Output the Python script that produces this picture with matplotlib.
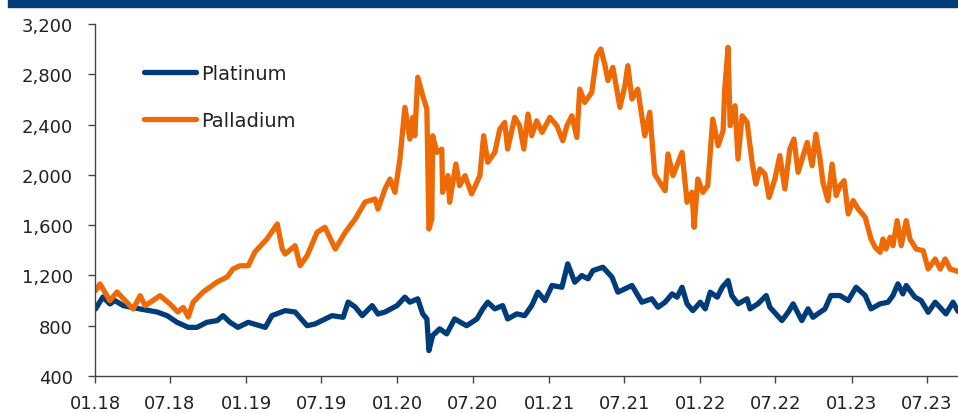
import matplotlib
matplotlib.use("Agg")
import matplotlib.pyplot as plt
import matplotlib.dates as mdates
from matplotlib.patches import Rectangle
from matplotlib.ticker import FuncFormatter, MultipleLocator
import pandas as pd

# values (USD/oz)
platinum_dates = [
    "2018-01-02", "2018-01-20", "2018-02-06", "2018-02-18", "2018-03-10", "2018-04-20",
    "2018-05-31", "2018-06-24", "2018-07-18", "2018-08-14", "2018-09-04", "2018-09-28",
    "2018-10-23", "2018-11-06", "2018-11-23", "2018-12-12",
    "2019-01-06", "2019-02-16", "2019-03-04", "2019-04-05", "2019-04-29", "2019-05-28",
    "2019-06-16", "2019-07-27", "2019-08-23", "2019-09-04", "2019-09-21", "2019-10-08",
    "2019-11-01", "2019-11-15", "2019-12-02", "2019-12-31",
    "2020-01-19", "2020-01-31", "2020-02-19", "2020-03-02", "2020-03-12", "2020-03-17",
    "2020-03-26", "2020-04-12", "2020-04-29", "2020-05-18", "2020-06-16", "2020-07-11",
    "2020-07-25", "2020-08-06", "2020-08-23", "2020-09-11", "2020-09-23", "2020-10-15",
    "2020-11-03", "2020-11-20", "2020-12-05", "2020-12-22",
    "2021-01-08", "2021-02-01", "2021-02-15", "2021-03-04", "2021-03-21", "2021-04-05",
    "2021-04-17", "2021-05-11", "2021-06-02", "2021-06-16", "2021-07-03", "2021-07-20",
    "2021-08-13", "2021-09-06", "2021-09-21", "2021-10-08", "2021-10-25", "2021-11-06",
    "2021-11-18", "2021-11-30", "2021-12-14",
    "2022-01-01", "2022-01-13", "2022-01-25", "2022-02-11", "2022-02-23", "2022-03-09",
    "2022-03-18", "2022-04-02", "2022-04-24", "2022-05-01", "2022-05-20", "2022-06-09",
    "2022-06-18", "2022-07-17", "2022-08-01", "2022-08-13", "2022-09-03", "2022-09-18",
    "2022-09-30", "2022-10-17", "2022-10-29", "2022-11-12", "2022-12-04", "2022-12-24",
    "2023-01-12", "2023-02-03", "2023-02-17", "2023-03-11", "2023-03-30", "2023-04-11",
    "2023-04-23", "2023-05-05", "2023-05-13", "2023-06-03", "2023-06-18", "2023-07-05",
    "2023-07-22", "2023-08-17", "2023-09-03", "2023-09-15",
]
platinum = [
    933, 1028, 973, 1000, 960, 933,
    909, 880, 827, 787, 787, 827,
    841, 880, 827, 787,
    827, 787, 880, 920, 909, 800,
    814, 880, 867, 988, 949, 880,
    960, 893, 909, 960,
    1027, 987, 1014, 894, 854, 602,
    722, 775, 735, 854, 800, 854,
    934, 987, 934, 960, 854, 894,
    880, 960, 1067, 1000,
    1120, 1106, 1292, 1146, 1199, 1173,
    1239, 1265, 1186, 1067, 1093, 1120,
    987, 1014, 947, 987, 1053, 1027,
    1106, 974, 920,
    987, 934, 1067, 1027, 1106, 1159,
    1040, 974, 1014, 934, 974, 1040,
    947, 841, 907, 974, 841, 934,
    867, 907, 934, 1040, 1040, 1000,
    1106, 1040, 934, 974, 987, 1040,
    1133, 1053, 1120, 1027, 1000, 907,
    987, 894, 987, 915,
]

palladium_dates = [
    "2018-01-02", "2018-01-13", "2018-02-06", "2018-02-23", "2018-04-03", "2018-04-20",
    "2018-05-02", "2018-06-07", "2018-07-01", "2018-07-20", "2018-08-02", "2018-08-14",
    "2018-08-26", "2018-09-19", "2018-10-23", "2018-11-16", "2018-11-30", "2018-12-17",
    "2019-01-06", "2019-01-22", "2019-02-20", "2019-03-17", "2019-03-29", "2019-04-05",
    "2019-04-29", "2019-05-11", "2019-05-28", "2019-06-21", "2019-07-10", "2019-08-04",
    "2019-08-28", "2019-09-21", "2019-10-15", "2019-11-08", "2019-11-15", "2019-12-02",
    "2019-12-14", "2019-12-26",
    "2020-01-07", "2020-01-19", "2020-01-31", "2020-02-07", "2020-02-12", "2020-02-19",
    "2020-03-02", "2020-03-12", "2020-03-17", "2020-03-24", "2020-03-26", "2020-04-05",
    "2020-04-17", "2020-04-19", "2020-05-02", "2020-05-06", "2020-05-21", "2020-05-30",
    "2020-06-12", "2020-06-28", "2020-07-18", "2020-07-27", "2020-08-06", "2020-08-23",
    "2020-09-04", "2020-09-16", "2020-09-23", "2020-10-10", "2020-10-22", "2020-11-01",
    "2020-11-11", "2020-11-20", "2020-12-02", "2020-12-15",
    "2021-01-03", "2021-01-20", "2021-02-03", "2021-02-13", "2021-02-25", "2021-03-09",
    "2021-03-16", "2021-03-28", "2021-04-14", "2021-04-26", "2021-05-06", "2021-05-16",
    "2021-05-23", "2021-06-04", "2021-06-21", "2021-07-03", "2021-07-10", "2021-07-20",
    "2021-08-03", "2021-08-20", "2021-09-01", "2021-09-13", "2021-09-30", "2021-10-08",
    "2021-10-15", "2021-10-27", "2021-11-18", "2021-11-30", "2021-12-12", "2021-12-17",
    "2021-12-26",
    "2022-01-07", "2022-01-19", "2022-01-31", "2022-02-13", "2022-02-25", "2022-03-01",
    "2022-03-09", "2022-03-14", "2022-03-26", "2022-04-02", "2022-04-12", "2022-04-24",
    "2022-05-06", "2022-05-15", "2022-05-25", "2022-06-06", "2022-06-16", "2022-06-30",
    "2022-07-12", "2022-07-24", "2022-08-05", "2022-08-15", "2022-08-25", "2022-09-16",
    "2022-09-28", "2022-10-07", "2022-10-17", "2022-10-24", "2022-11-05", "2022-11-15",
    "2022-11-25", "2022-12-04", "2022-12-14", "2022-12-24",
    "2023-01-05", "2023-01-17", "2023-02-03", "2023-02-17", "2023-02-27", "2023-03-11",
    "2023-03-18", "2023-03-25", "2023-04-04", "2023-04-11", "2023-04-21", "2023-05-01",
    "2023-05-13", "2023-05-22", "2023-06-06", "2023-06-23", "2023-07-05", "2023-07-22",
    "2023-08-03", "2023-08-15", "2023-08-27", "2023-09-10", "2023-09-15",
]
palladium = [
    1078, 1132, 999, 1068, 933, 1039,
    959, 1039, 973, 909, 946, 869,
    988, 1068, 1148, 1188, 1251, 1277,
    1277, 1387, 1490, 1609, 1410, 1370,
    1437, 1277, 1357, 1543, 1583, 1410,
    1543, 1649, 1784, 1808, 1728, 1888,
    1967, 1861,
    2126, 2537, 2285, 2457, 2311, 2776,
    2630, 2524, 1569, 1649, 2311, 2179,
    2205, 1861, 1994, 1782, 2086, 1914,
    1994, 1848, 1994, 2311, 2100, 2179,
    2364, 2417, 2205, 2457, 2390, 2205,
    2484, 2311, 2430, 2338,
    2457, 2390, 2271, 2390, 2470, 2298,
    2682, 2576, 2656, 2948, 3001, 2869,
    2750, 2855, 2537, 2709, 2869, 2603,
    2682, 2311, 2497, 2006, 1914, 1874,
    2166, 1994, 2179, 1782, 1861, 1583,
    1967,
    1861, 1914, 2444, 2232, 2351, 2682,
    3014, 2391, 2550, 2126, 2470, 2417,
    2100, 1927, 2047, 2006, 1821, 1967,
    2153, 1888, 2205, 2285, 2020, 2258,
    2073, 2324, 2126, 1941, 1795, 2086,
    1835, 1914, 1954, 1689,
    1795, 1729, 1662, 1490, 1424, 1384,
    1490, 1410, 1503, 1437, 1636, 1437,
    1636, 1490, 1410, 1397, 1251, 1331,
    1251, 1331, 1251, 1238, 1230,
]

series_names = ["Platinum", "Palladium"]
series_colors = ["#003B7A", "#EE6A06"]

fig = plt.figure(figsize=(9.58, 4.14), dpi=100)
fig.patches.append(Rectangle((8 / 958, 1 - 8 / 414), 1, 8 / 414,
                             transform=fig.transFigure, color="#003B7A", zorder=0))

ax = fig.add_axes([95 / 958, 1 - 377 / 414, 1 - 95 / 958, (377 - 25) / 414])

for dates, vals, name, col in zip([platinum_dates, palladium_dates],
                                  [platinum, palladium], series_names, series_colors):
    ax.plot(pd.to_datetime(dates), vals, color=col, lw=3.8, label=name,
            solid_joinstyle="round", solid_capstyle="round")

ax.set_ylim(400, 3200)
ax.yaxis.set_major_locator(MultipleLocator(400))
ax.yaxis.set_major_formatter(FuncFormatter(lambda v, p: f"{v:,.0f}"))
ax.set_xlim(pd.Timestamp("2018-01-01"), pd.Timestamp("2023-09-15"))
ax.xaxis.set_major_locator(mdates.MonthLocator(bymonth=[1, 7]))
ax.xaxis.set_major_formatter(mdates.DateFormatter("%m.%y"))

for s in ["top", "right"]:
    ax.spines[s].set_visible(False)
for s in ["left", "bottom"]:
    ax.spines[s].set_color("#444444")
    ax.spines[s].set_linewidth(1)
ax.tick_params(axis="both", direction="out", length=5, width=1, color="#444444",
               labelsize=13, labelcolor="#222222")
ax.tick_params(axis="y", pad=11)
ax.tick_params(axis="x", pad=8)

ax.legend(loc="upper left", bbox_to_anchor=(0.036, 0.937), frameon=False, fontsize=14,
          handlelength=2.7, handletextpad=0.25, labelspacing=1.45, labelcolor="#222222")

plt.savefig("out.png", dpi=100)
